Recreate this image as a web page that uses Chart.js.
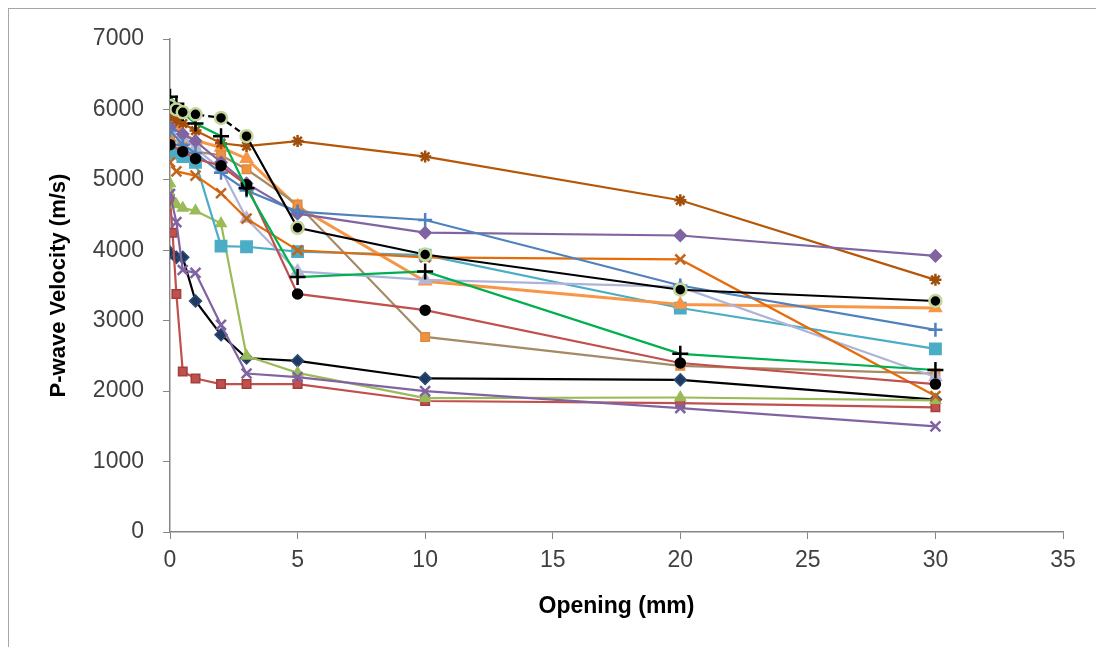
<!DOCTYPE html>
<html>
<head>
<meta charset="utf-8">
<script src="https://cdn.jsdelivr.net/npm/chart.js@4.4.1/dist/chart.umd.min.js"></script>
<style>
  html, body { margin: 0; padding: 0; background: #fff; overflow: hidden; }
  #frame { position: absolute; left: 8px; top: 8px; width: 1200px; height: 700px; border: 1px solid #a6a6a6; }
  #wrap { position: absolute; left: 0; top: 0; width: 1096px; height: 647px; }
</style>
</head>
<body>
<div id="frame"></div>
<div id="wrap"><canvas id="velChart" width="1096" height="647"></canvas></div>
<script>
// --- dati (apertura in mm, velocità in m/s) ---
const opening = [0, 0.1, 0.25, 0.5, 1, 2, 3, 5, 10, 20, 30];
const xTicks = [0, 5, 10, 15, 20, 25, 30, 35];
const yTicks = [0, 1000, 2000, 3000, 4000, 5000, 6000, 7000];

const diamondNavy   = [3970, null, 3900, 3900, 3280, 2800, 2470, 2430, 2180, 2160, 1880];
const squareRed     = [4730, 4250, 3380, 2280, 2180, 2100, 2100, 2100, 1860, 1830, 1770];
const triGreen      = [4950, null, 4650, 4600, 4560, 4380, 2500, 2260, 1900, 1910, 1870];
const xPurple       = [4800, null, 4400, 3720, 3680, 2940, 2250, 2200, 2000, 1760, 1500];
const squareAqua    = [5420, null, 5380, 5330, 5250, 4060, 4050, 3980, 3930, 3180, 2600];
const triOrange     = [5850, null, 5750, 5650, 5560, 5460, 5300, 4620, 3560, 3230, 3180];
const squareTan     = [5600, null, null, 5500, 5400, 5350, 5150, 4650, 2770, 2360, 2250];
const triLavender   = [5700, null, null, 5600, 5450, 5150, 4450, 3700, 3580, 3480, 2200];
const xOrange       = [5250, null, 5120, null, 5060, 4810, 4450, 4000, 3900, 3870, 1930];
const starBrown     = [5900, null, 5850, 5800, 5700, 5520, 5480, 5550, 5330, 4710, 3580];
const diamondPurple = [5750, null, null, 5650, 5550, 5250, 4950, 4520, 4250, 4210, 3920];
const plusBlue      = [5700, null, null, 5500, 5380, 5100, 4850, 4550, 4430, 3500, 2870];
const circleRedLine = [5500, null, null, 5400, 5300, 5200, 4930, 3380, 3150, 2400, 2100];
const plusGreenLine = [6180, null, 6080, 5950, 5800, 5620, 4880, 3620, 3700, 2530, 2300];
const circleBlack   = [6050, null, 6000, 5960, 5930, 5880, 5620, 4320, 3940, 3440, 3280];

// --- stili delle serie ---
const seriesDefs = [
  { vals: diamondNavy,   line: '#000000', fill: '#1F3A60', edge: '#2C4D75', style: 'rectRot',  r: 6 },
  { vals: squareRed,     line: '#C0504D', fill: '#C0504D', edge: '#A03F3C', style: 'rect',     r: 6 },
  { vals: triGreen,      line: '#9BBB59', fill: '#9BBB59', edge: '#9BBB59', style: 'triangle', r: 6 },
  { vals: xPurple,       line: '#8064A2', fill: '#8064A2', edge: '#8064A2', style: 'crossRot', r: 7 },
  { vals: squareAqua,    line: '#4BACC6', fill: '#4BACC6', edge: '#4BACC6', style: 'rect',     r: 8 },
  { vals: triOrange,     line: '#F79646', fill: '#F79646', edge: '#F79646', style: 'triangle', r: 7, w: 3 },
  { vals: squareTan,     line: '#A58A66', fill: '#F0913F', edge: '#E08A40', style: 'rect',     r: 6 },
  { vals: triLavender,   line: '#AEB4D8', fill: '#B8B4D4', edge: '#B8B4D4', style: 'triangle', r: 7 },
  { vals: xOrange,       line: '#E46C0A', fill: '#C0651E', edge: '#C0651E', style: 'crossRot', r: 7 },
  { vals: starBrown,     line: '#B65708', fill: '#B65708', edge: '#A04E0A', style: 'star',     r: 6 },
  { vals: diamondPurple, line: '#8064A2', fill: '#8064A2', edge: '#8064A2', style: 'rectRot',  r: 6 },
  { vals: plusBlue,      line: '#4F81BD', fill: '#4F81BD', edge: '#4F81BD', style: 'cross',    r: 7 },
  { vals: circleRedLine, line: '#C0504D', fill: '#000000', edge: '#000000', style: 'circle',   r: 5 },
  { vals: plusGreenLine, line: '#00B050', fill: '#000000', edge: '#000000', style: 'cross',    r: 8 },
  { vals: circleBlack,   line: '#000000', fill: '#000000', edge: '#C3D69B', style: 'circle',   r: 6, dash: true }
];

const ctx = document.getElementById('velChart').getContext('2d');

const datasets = seriesDefs.map((s, i) => {
  const pts = [];
  s.vals.forEach((v, k) => { if (v !== null) pts.push({ x: opening[k], y: v }); });
  const ds = {
    label: 'Serie ' + (i + 1),
    data: pts,
    borderColor: s.line,
    borderWidth: s.w || 2.2,
    pointStyle: s.style,
    pointRadius: s.r,
    pointBackgroundColor: s.fill,
    pointBorderColor: s.edge,
    pointBorderWidth: (s.style === 'cross' || s.style === 'crossRot' || s.style === 'star') ? 2.5 : 1.5,
    tension: 0,
    fill: false,
    order: -i
  };
  if (s.dash) {
    ds.segment = { borderDash: c => (c.p1.parsed.x <= 3 ? [6, 4] : undefined) };
    ds.pointBorderWidth = 2.5;
  }
  return ds;
});

const tickFont = { family: "'Liberation Sans', Arial, sans-serif", size: 23 };

new Chart(ctx, {
  type: 'line',
  data: { datasets },
  options: {
    responsive: false,
    animation: false,
    layout: { autoPadding: false, padding: { left: 46, top: 39, right: 33, bottom: 27 } },
    plugins: { legend: { display: false }, tooltip: { enabled: false } },
    scales: {
      x: {
        type: 'linear',
        min: 0, max: 35,
        afterFit: scale => { scale.height = 88; },
        afterBuildTicks: scale => { scale.ticks = xTicks.map(v => ({ value: v })); },
        ticks: { color: '#404040', font: tickFont, padding: 8, maxRotation: 0, callback: v => String(v) },
        grid: { drawOnChartArea: false, drawTicks: true, tickLength: 7, color: '#868686' },
        border: { color: '#868686', width: 1.5 },
        title: {
          display: true, text: 'Opening (mm)', color: '#000',
          font: { family: "'Liberation Sans', Arial, sans-serif", size: 23, weight: 'bold' },
          padding: 0
        }
      },
      y: {
        min: 0, max: 7000,
        afterFit: scale => { scale.width = 124; },
        afterBuildTicks: scale => { scale.ticks = yTicks.map(v => ({ value: v })); },
        ticks: { color: '#404040', font: tickFont, padding: 19, callback: v => String(v) },
        grid: { drawOnChartArea: false, drawTicks: true, tickLength: 7, color: '#868686' },
        border: { color: '#868686', width: 1.5 },
        title: {
          display: true, text: 'P-wave Velocity (m/s)', color: '#000',
          font: { family: "'Liberation Sans', Arial, sans-serif", size: 22, weight: 'bold' },
          padding: 0
        }
      }
    }
  }
});
</script>
</body>
</html>
